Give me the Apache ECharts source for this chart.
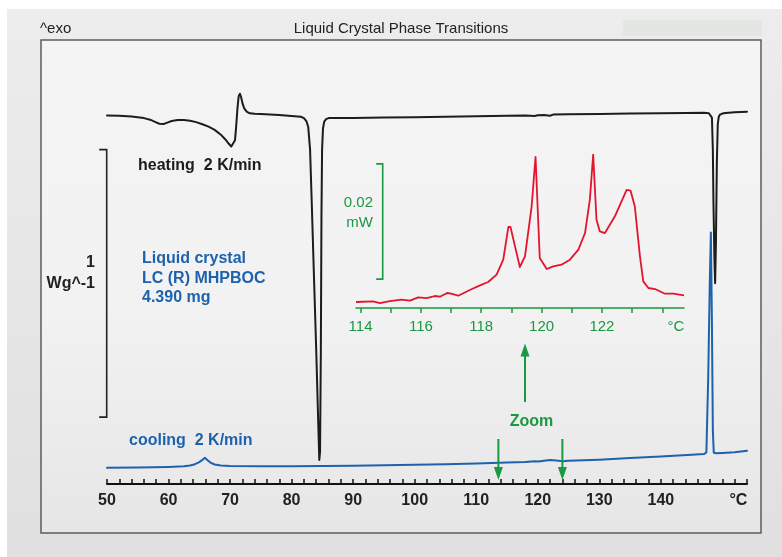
<!DOCTYPE html>
<html><head><meta charset="utf-8">
<script src="https://cdn.jsdelivr.net/npm/echarts@6/dist/echarts.min.js"></script>
<style>html,body{margin:0;padding:0;background:#fff}#c{width:782px;height:557px}</style>
</head><body><div id="c"></div>
<script>
// ---- data (temperature in °C, heat flow in W/g with curve offsets; inset in µW) ----
const heatingT = [50,52,54,56,57,57.8,58.5,59.2,59.8,60.5,61.5,62.5,63.5,64.5,65.5,66.5,67.5,68.5,69.2,69.8,70.2,70.5,70.8,71.0,71.2,71.4,71.6,71.8,72.0,72.3,72.7,73.2,74,75,78,81.5,82.0,82.4,82.7,83.0,83.26,83.6,84.0,84.3,84.5,84.62,84.75,84.85,84.95,85.1,85.3,85.6,86,90,95,100,105,110,115,118,119.5,120,121,122,122.5,125,130,135,140,144,147,147.8,148.1,148.3,148.45,148.55,148.7,148.82,148.95,149.1,149.25,149.4,149.6,150,150.5,152,154];
const heatingW = [1.378,1.377,1.374,1.368,1.362,1.354,1.347,1.346,1.351,1.357,1.361,1.361,1.358,1.353,1.345,1.336,1.324,1.306,1.289,1.272,1.262,1.264,1.285,1.340,1.405,1.450,1.459,1.446,1.425,1.404,1.392,1.386,1.384,1.383,1.380,1.373,1.368,1.357,1.335,1.250,1.060,0.800,0.500,0.250,0.090,0.120,0.500,1.000,1.250,1.330,1.355,1.364,1.368,1.368,1.370,1.371,1.373,1.375,1.377,1.378,1.376,1.379,1.380,1.377,1.381,1.382,1.383,1.385,1.386,1.387,1.388,1.386,1.385,1.370,1.250,1.050,0.850,0.751,0.900,1.200,1.345,1.372,1.381,1.385,1.387,1.390,1.392];
const coolingT = [50,55,60,62.5,63.5,64.3,65,65.5,65.9,66.3,66.8,67.5,68.5,70,75,80,85,90,95,100,105,110,115,118,119.5,119.8,120.1,121,122,123,124,125,130,135,140,145,147,147.4,147.7,147.95,148.13,148.3,148.45,148.6,149,150,152,154];
const coolingW = [0.061,0.062,0.064,0.066,0.069,0.074,0.082,0.090,0.098,0.090,0.080,0.073,0.069,0.067,0.066,0.066,0.067,0.068,0.070,0.072,0.074,0.077,0.080,0.082,0.085,0.090,0.084,0.087,0.090,0.088,0.085,0.087,0.091,0.097,0.103,0.109,0.112,0.118,0.400,0.750,0.940,0.600,0.200,0.117,0.115,0.116,0.119,0.124];
const zoomT = [113.85,114.42,114.64,114.97,115.36,115.64,115.91,116.19,116.46,116.63,116.87,117.0,117.24,117.62,117.96,118.23,118.51,118.73,118.9,118.97,119.12,119.28,119.45,119.67,119.8,119.94,120.17,120.39,120.66,120.94,121.22,121.44,121.6,121.71,121.82,121.93,122.1,122.43,122.65,122.82,122.95,123.09,123.26,123.37,123.54,123.76,124.09,124.36,124.72];
const zoomUW = [1.04,1.15,0.86,1.21,1.44,1.27,1.84,1.73,2.08,1.96,2.60,2.48,2.13,3.12,3.93,4.51,5.78,8.38,14.05,14.05,10.69,7.11,8.96,17.6,26.2,8.67,6.76,7.22,7.51,8.38,10.11,13.0,18.79,26.6,15.3,13.3,13.0,15.9,18.5,20.5,20.35,17.6,8.96,4.62,3.47,3.29,2.48,2.48,2.19];
const mainTickLabels = [50,60,70,80,90,100,110,120,130,140];
const insetTicks = [114,115,116,117,118,119,120,121,122,123,124];
const insetTickLabels = [114,116,118,120,122];
const zoomRange = [113.6, 124.0];   // °C marked by the green arrows
const scaleBarMain = [0.25, 1.25];  // 1 W/g
const scaleBarInset = [5, 25];      // 20 µW = 0.02 mW

const FONT = "'Liberation Sans', Arial, sans-serif";
const GREEN = '#1b9842', BLUE = '#1d62ad', RED = '#e3142e', DARK = '#1c1c1c';
const zip = (a, b) => a.map((v, i) => [v, b[i]]);

const chart = echarts.init(document.getElementById('c'), null, {renderer: 'canvas'});
const option = {
  animation: false,
  grid: [
    {left: 107, right: 35, top: 40, bottom: 73},
    {left: 356, right: 98, top: 150, bottom: 249}
  ],
  xAxis: [
    {gridIndex: 0, type: 'value', min: 50, max: 154, interval: 2,
     axisLine: {onZero: false, lineStyle: {color: '#111', width: 2}},
     axisTick: {inside: true, length: 5, lineStyle: {color: '#111', width: 1.5}},
     axisLabel: {customValues: mainTickLabels.concat([152.6]), margin: 9,
       fontSize: 16, fontWeight: 'bold', color: '#222', fontFamily: FONT,
       formatter: v => (v > 151 && v < 153.5) ? '°C' : ((v % 10 === 0 && v <= 140) ? String(v) : '')},
     splitLine: {show: false}},
    {gridIndex: 1, type: 'value', min: 113.85, max: 124.72,
     axisLine: {onZero: false, lineStyle: {color: GREEN, width: 1.5}},
     axisTick: {customValues: insetTicks, inside: false, length: 5, lineStyle: {color: GREEN, width: 1.5}},
     axisLabel: {customValues: insetTickLabels.concat([124.45]), margin: 11,
       fontSize: 15, color: GREEN, fontFamily: FONT,
       formatter: v => v > 124.2 ? '°C' : String(v)},
     splitLine: {show: false}}
  ],
  yAxis: [
    {gridIndex: 0, type: 'value', min: 0, max: 1.66, show: false},
    {gridIndex: 1, type: 'value', min: 0, max: 27.4, show: false}
  ],
  series: [
    {name: 'heating', type: 'line', xAxisIndex: 0, yAxisIndex: 0, data: zip(heatingT, heatingW),
     showSymbol: false, smooth: false, lineStyle: {color: DARK, width: 2, join: 'round', cap: 'round'}, z: 5},
    {name: 'cooling', type: 'line', xAxisIndex: 0, yAxisIndex: 0, data: zip(coolingT, coolingW),
     showSymbol: false, smooth: false, lineStyle: {color: BLUE, width: 2, join: 'round', cap: 'round'}, z: 4},
    {name: 'zoom', type: 'line', xAxisIndex: 1, yAxisIndex: 1, data: zip(zoomT, zoomUW),
     showSymbol: false, lineStyle: {color: RED, width: 1.8, join: 'round'}, z: 4}
  ]
};
chart.setOption(option);

// annotations
const p0 = (x, y) => chart.convertToPixel({gridIndex: 0}, [x, y]);
const p1 = (x, y) => chart.convertToPixel({gridIndex: 1}, [x, y]);
const mb = [p0(50, scaleBarMain[0])[1], p0(50, scaleBarMain[1])[1]];
const ib = [p1(114, scaleBarInset[0])[1], p1(114, scaleBarInset[1])[1]];
const dx1 = p0(zoomRange[0], 0)[0], dx2 = p0(zoomRange[1], 0)[0];

function txt(text, x, y, opts) {
  return {type: 'text', z: 10, style: Object.assign({text, x, y, fontFamily: FONT, fontSize: 16,
    fill: '#222', align: 'left', verticalAlign: 'middle'}, opts || {})};
}
function vline(x, y1, y2, color, w) {
  return {type: 'line', z: 10, shape: {x1: x, y1, x2: x, y2}, style: {stroke: color, lineWidth: w || 2}};
}
function tri(x, tipY, dir, color) {
  const b = tipY - dir * 13;
  return {type: 'polygon', z: 10, shape: {points: [[x, tipY], [x - 4.5, b], [x + 4.5, b]]}, style: {fill: color}};
}
function bracket(x, yTop, yBot, tickLen, color) {
  return {type: 'polyline', z: 10, shape: {points: [[x - tickLen, yTop], [x, yTop], [x, yBot], [x - tickLen, yBot]]},
    style: {stroke: color, lineWidth: 1.6, fill: null}};
}

chart.setOption({graphic: [
  {type: 'rect', z: -20, silent: true, shape: {x: 0, y: 0, width: 782, height: 557},
   style: {fill: new echarts.graphic.LinearGradient(0, 0, 0, 1, [{offset: 0, color: '#ededed'}, {offset: 1, color: '#e0e0e0'}])}},
  {type: 'rect', z: -19, silent: true, shape: {x: 0, y: 0, width: 782, height: 9}, style: {fill: '#ffffff'}},
  {type: 'rect', z: -19, silent: true, shape: {x: 0, y: 0, width: 7, height: 557}, style: {fill: '#ffffff'}},
  {type: 'rect', z: -19, silent: true, shape: {x: 623, y: 20, width: 139, height: 16}, style: {fill: '#e3e6e3'}},
  {type: 'rect', z: -18, silent: true, shape: {x: 41, y: 40, width: 720, height: 493},
   style: {stroke: '#5c5c5c', lineWidth: 1.5,
     fill: new echarts.graphic.LinearGradient(0, 0, 0, 1, [{offset: 0, color: '#f4f4f4'}, {offset: 0.55, color: '#f2f2f2'}, {offset: 1, color: '#e6e6e6'}])}},
  txt('^exo', 40, 29, {fontSize: 15}),
  txt('Liquid Crystal Phase Transitions', 401, 29, {fontSize: 15, align: 'center'}),
  txt('heating  2 K/min', 138, 166, {fontWeight: 'bold', fill: DARK}),
  txt('1', 95, 263, {fontWeight: 'bold', align: 'right'}),
  txt('Wg^-1', 95, 284, {fontWeight: 'bold', align: 'right'}),
  txt('Liquid crystal', 142, 259, {fontWeight: 'bold', fill: BLUE}),
  txt('LC (R) MHPBOC', 142, 279, {fontWeight: 'bold', fill: BLUE}),
  txt('4.390 mg', 142, 298, {fontWeight: 'bold', fill: BLUE}),
  txt('cooling  2 K/min', 129, 441, {fontWeight: 'bold', fill: BLUE}),
  txt('Zoom', 531.5, 422, {fontWeight: 'bold', fill: GREEN, align: 'center'}),
  txt('0.02', 373, 203, {fontSize: 15, fill: GREEN, align: 'right'}),
  txt('mW', 373, 223, {fontSize: 15, fill: GREEN, align: 'right'}),
  bracket(106.7, mb[1], mb[0], 7.5, '#222'),
  bracket(382.7, ib[1], ib[0], 6.5, GREEN),
  vline(525, 402, 352, GREEN), tri(525, 343.5, -1, GREEN),
  vline(dx1, 439, 470, GREEN), tri(dx1, 480, 1, GREEN),
  vline(dx2, 439, 470, GREEN), tri(dx2, 480, 1, GREEN)
]});
</script></body></html>
